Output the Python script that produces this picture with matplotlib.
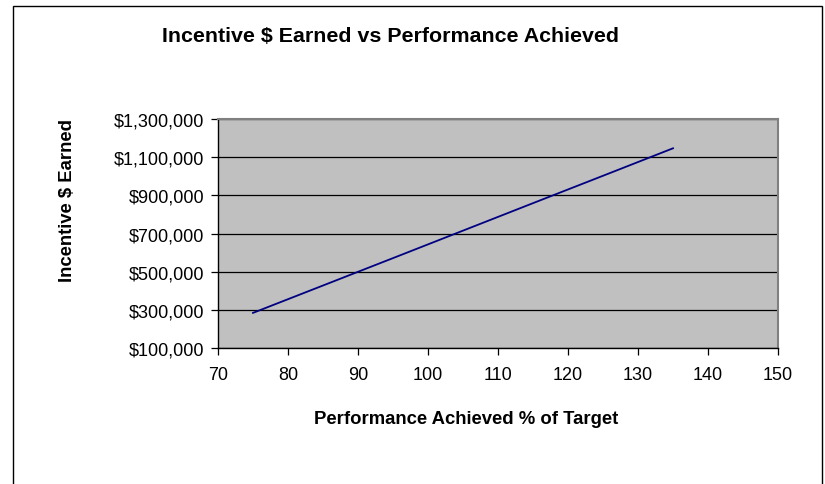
import matplotlib
matplotlib.use("Agg")
import matplotlib.pyplot as plt
from matplotlib.patches import Rectangle
from matplotlib.ticker import FuncFormatter

# performance achieved (% of target) and incentive earned ($)
perf = [75, 85, 95, 105, 115, 125, 135]
incentive = [284000, 427500, 571000, 715000, 859000, 1002500, 1146500]

xticks = [70, 80, 90, 100, 110, 120, 130, 140, 150]
yticks = [100000, 300000, 500000, 700000, 900000, 1100000, 1300000]

plt.rcParams["font.family"] = ["Liberation Sans", "DejaVu Sans"]

W, H = 825, 485
fig = plt.figure(figsize=(W / 100, H / 100), dpi=100)
ax = fig.add_axes([218 / W, 1 - 349 / H, (778 - 218) / W, (349 - 120) / H])

ax.set_facecolor("#c0c0c0")
ax.plot(perf, incentive, color="#000080", lw=1.3, zorder=3)

ax.set_xlim(70, 150)
ax.set_ylim(100000, 1300000)
ax.set_xticks(xticks)
ax.set_yticks(yticks)
ax.yaxis.set_major_formatter(FuncFormatter(lambda v, p: "${:,.0f}".format(v)))
ax.grid(axis="y", color="black", lw=0.9, zorder=1)
ax.tick_params(labelsize=13, direction="out", length=5, width=0.9, colors="black")
ax.tick_params(axis="y", pad=5)
ax.tick_params(axis="x", pad=8)

for s in ["left", "bottom"]:
    ax.spines[s].set_color("black")
    ax.spines[s].set_linewidth(1.0)
for s in ["top", "right"]:
    ax.spines[s].set_color("#808080")
    ax.spines[s].set_linewidth(1.5)

fig.text(390 / W, 1 - 37 / H, "Incentive $ Earned vs Performance Achieved",
         ha="center", va="center", fontsize=15.4, fontweight="bold")
fig.text(466 / W, 1 - 420 / H, "Performance Achieved % of Target",
         ha="center", va="center", fontsize=13.3, fontweight="bold")
fig.text(67 / W, 1 - 201 / H, "Incentive $ Earned", rotation=90,
         ha="center", va="center", fontsize=13.3, fontweight="bold")

fig.add_artist(Rectangle((13 / W, -0.02), (822 - 13) / W, 1.02 - 7 / H,
                         transform=fig.transFigure, fill=False,
                         edgecolor="black", lw=1.0))

fig.savefig("out.png", dpi=100)
